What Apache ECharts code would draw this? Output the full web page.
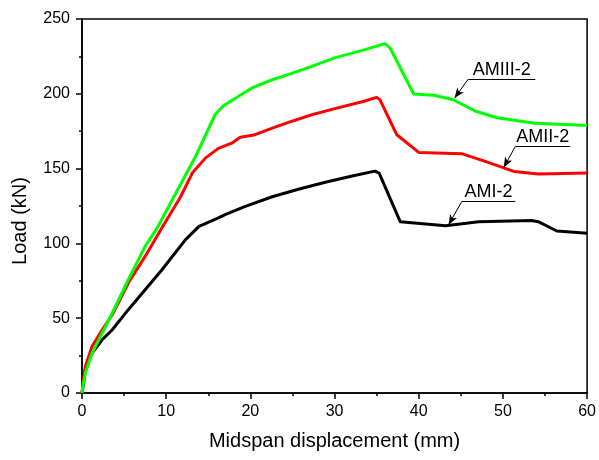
<!DOCTYPE html>
<html>
<head>
<meta charset="utf-8">
<title>Load vs midspan displacement</title>
<script src="https://cdn.jsdelivr.net/npm/echarts@6/dist/echarts.min.js"></script>
<style>
  html, body { margin: 0; padding: 0; background: #fff; }
  #chart { width: 599px; height: 460px; }
</style>
</head>
<body>
<div id="chart"></div>
<script>
// Load–displacement curves of the three beams
const amiX = [0, 0.2, 0.4, 1.2, 2.4, 3.6, 5.5, 7.5, 9.5, 12.3, 13.9, 16.2, 17.0, 19.4, 22.6, 25.7, 28.9, 32.1, 34.8, 35.3, 37.8, 43.2, 47.1, 53.4, 54.2, 56.4, 60];
const amiY = [0, 7, 15.6, 26.7, 35.6, 42.3, 55.7, 69, 82.4, 102.5, 111.4, 117, 119.2, 124.8, 131.2, 136.2, 140.9, 145, 148.3, 147, 114.5, 111.8, 114.4, 115.3, 114.5, 108.3, 106.8];

const amiiX = [0, 0.15, 0.4, 1.2, 2.4, 3.6, 5.5, 7.5, 9.5, 11.7, 13.1, 14.65, 16.2, 17.8, 18.8, 20.4, 22.6, 24.7, 27.3, 29.7, 33.5, 35.0, 35.4, 37.4, 40.0, 45.1, 47.9, 51.3, 54.2, 60];
const amiiY = [0, 8, 17.8, 31.2, 42.3, 52.3, 73.5, 91.3, 110.5, 131, 147, 157, 163.5, 167, 171, 172.4, 177.1, 181.2, 186, 189.6, 195, 197.6, 196, 172.6, 160.8, 160, 154.8, 148.1, 146.4, 147];

const amiiiX = [0, 0.15, 0.4, 1.2, 2.0, 3.6, 5.5, 7.5, 8.9, 10.9, 13.5, 15.8, 16.8, 18.6, 20.2, 22.6, 25.0, 27.3, 30.0, 33.3, 36.0, 36.6, 39.4, 41.8, 44.1, 46.7, 49.3, 53.8, 60];
const amiiiY = [0, 6, 13.4, 26.7, 35.6, 53.5, 75.7, 98, 110, 131, 158.2, 186, 192, 198.3, 203.9, 209.4, 213.8, 218.3, 224, 229, 233.5, 230.6, 199.9, 199, 196, 188.5, 184, 180.3, 178.8];

const seriesNames = ['AMI-2', 'AMII-2', 'AMIII-2'];

// Leader lines for the curve labels: arrow tip, elbow, end of underline (data units)
const amiNote = [[43.55, 112.5], [45.13, 128.1], [51.47, 128.1]];
const amiiNote = [[50.1, 150.8], [51.47, 164.8], [58.0, 164.8]];
const amiiiNote = [[44.26, 197.2], [45.9, 209.9], [53.85, 209.9]];

const xTicks = { min: 0, max: 60, interval: 10 };
const yTicks = { min: 0, max: 250, interval: 50 };

const FONT = "'Liberation Sans', Arial, sans-serif";

function pairs(xs, ys) {
  return xs.map((x, i) => [x, ys[i]]);
}

function leader(note, text) {
  return {
    silent: true,
    animation: false,
    symbol: ['none', 'none'],
    symbolSize: [6, 10],
    lineStyle: { color: '#000', width: 1, type: 'solid' },
    label: { show: false },
    emphasis: { disabled: true },
    data: [
      [{ coord: note[0], symbol: 'arrow' }, { coord: note[1] }],
      [
        {
          coord: note[1],
          label: {
            show: true,
            formatter: text,
            position: 'middle',
            distance: 0,
            color: '#000',
            fontFamily: FONT,
            fontSize: 18
          }
        },
        { coord: note[2] }
      ]
    ]
  };
}

function curve(name, xs, ys, color, note) {
  return {
    name: name,
    type: 'line',
    data: pairs(xs, ys),
    showSymbol: false,
    symbol: 'none',
    lineStyle: { color: color, width: 3, join: 'round' },
    itemStyle: { color: color },
    z: 2,
    markLine: leader(note, name)
  };
}

const chart = echarts.init(document.getElementById('chart'), null, { renderer: 'canvas' });

const axisCommon = {
  type: 'value',
  axisLine: { show: true, onZero: false, lineStyle: { color: '#000', width: 1.5 } },
  axisTick: { show: true, inside: false, length: 6, lineStyle: { color: '#000', width: 1.5 } },
  minorTick: { show: true, splitNumber: 2, length: 3, lineStyle: { color: '#000', width: 1.5 } },
  splitLine: { show: false },
  nameLocation: 'middle'
};

chart.setOption({
  animation: false,
  backgroundColor: '#fff',
  grid: {
    left: 82, right: 11, top: 19, bottom: 67,
    show: true, borderColor: '#000', borderWidth: 1.5,
    containLabel: false
  },
  xAxis: Object.assign({}, axisCommon, {
    min: xTicks.min, max: xTicks.max, interval: xTicks.interval,
    name: 'Midspan displacement (mm)',
    nameGap: 38,
    nameTextStyle: { color: '#000', fontFamily: FONT, fontSize: 20 },
    axisLabel: { color: '#000', fontFamily: FONT, fontSize: 16, margin: 11 }
  }),
  yAxis: Object.assign({}, axisCommon, {
    min: yTicks.min, max: yTicks.max, interval: yTicks.interval,
    name: 'Load (kN)',
    nameGap: 52,
    nameTextStyle: { color: '#000', fontFamily: FONT, fontSize: 20, padding: [0, 30, 0, 0] },
    axisLabel: { color: '#000', fontFamily: FONT, fontSize: 16, margin: 12 }
  }),
  series: [
    curve(seriesNames[0], amiX, amiY, '#000000', amiNote),
    curve(seriesNames[1], amiiX, amiiY, '#ff0000', amiiNote),
    curve(seriesNames[2], amiiiX, amiiiY, '#00ff00', amiiiNote)
  ]
});
</script>
</body>
</html>
